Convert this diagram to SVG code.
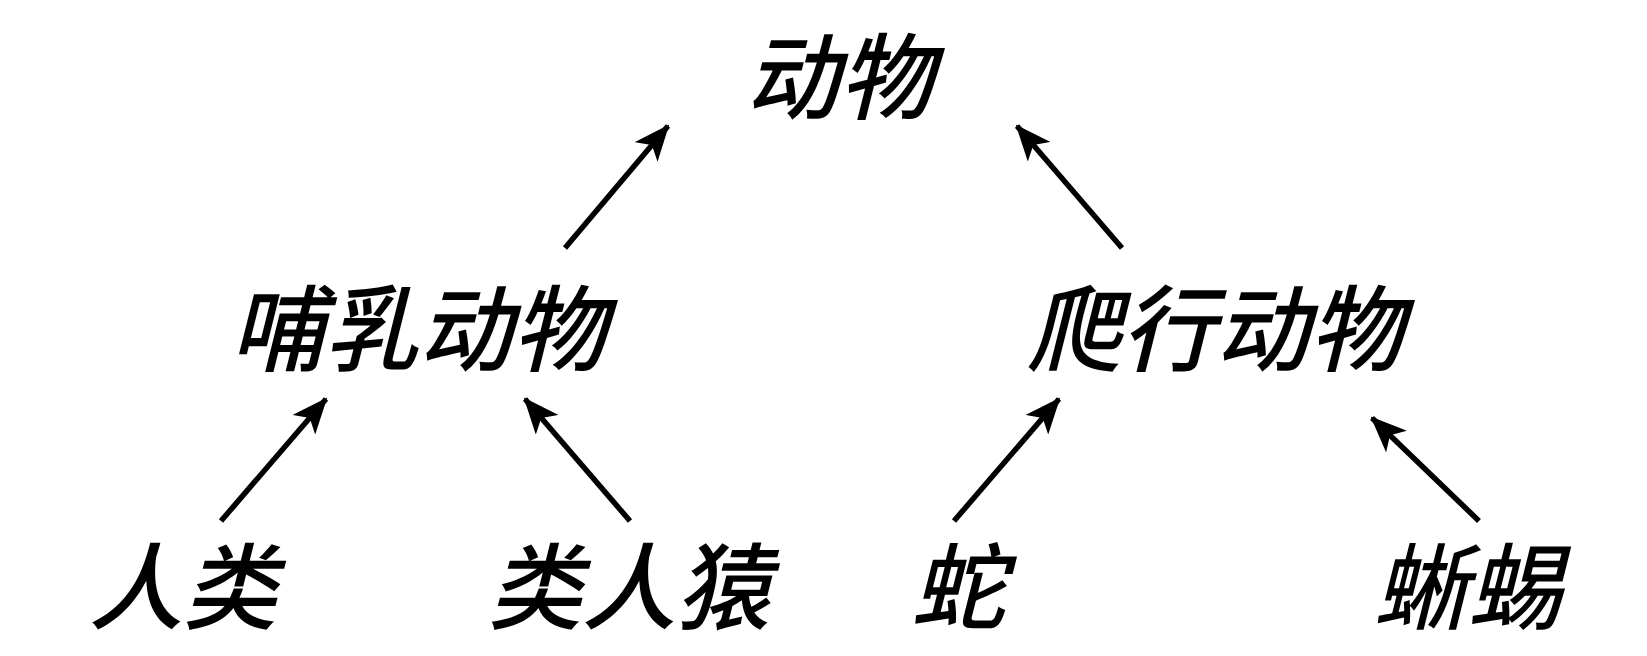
<svg xmlns="http://www.w3.org/2000/svg" width="1647" height="656" viewBox="0 0 1647 656">
<style>
text{font-family:"Noto Sans CJK SC",sans-serif;font-size:94px;font-style:italic;font-weight:500;text-anchor:middle;fill:#000}
.c line{stroke:#000;stroke-width:5.5}
</style>
<defs><marker id="a" viewBox="0 0 36 30" refX="34" refY="15" markerWidth="36" markerHeight="30" markerUnits="userSpaceOnUse" orient="auto"><path d="M0,0 L36,15 L0,30 L9,15 Z" fill="#000"/></marker></defs>
<rect width="1647" height="656" fill="#fff"/>
<g class="c">
<line x1="565" y1="248" x2="668" y2="126" marker-end="url(#a)"/>
<line x1="1122" y1="248" x2="1017" y2="126" marker-end="url(#a)"/>
<line x1="221" y1="521" x2="326" y2="399" marker-end="url(#a)"/>
<line x1="630" y1="521" x2="525" y2="399" marker-end="url(#a)"/>
<line x1="954" y1="521" x2="1059" y2="399" marker-end="url(#a)"/>
<line x1="1479" y1="521" x2="1372" y2="418" marker-end="url(#a)"/>
</g>
<g id="n1"><text x="839" y="112">动物</text></g>
<g id="n2"><text x="418" y="364">哺乳动物</text></g>
<g id="n3"><text x="1215" y="364">爬行动物</text></g>
<g id="n4"><text x="183" y="622">人类</text></g>
<g id="n5"><text x="629" y="622">类人猿</text></g>
<g id="n6"><text x="958" y="622">蛇</text></g>
<g id="n7"><text x="1468" y="622">蜥蜴</text></g>
</svg>
